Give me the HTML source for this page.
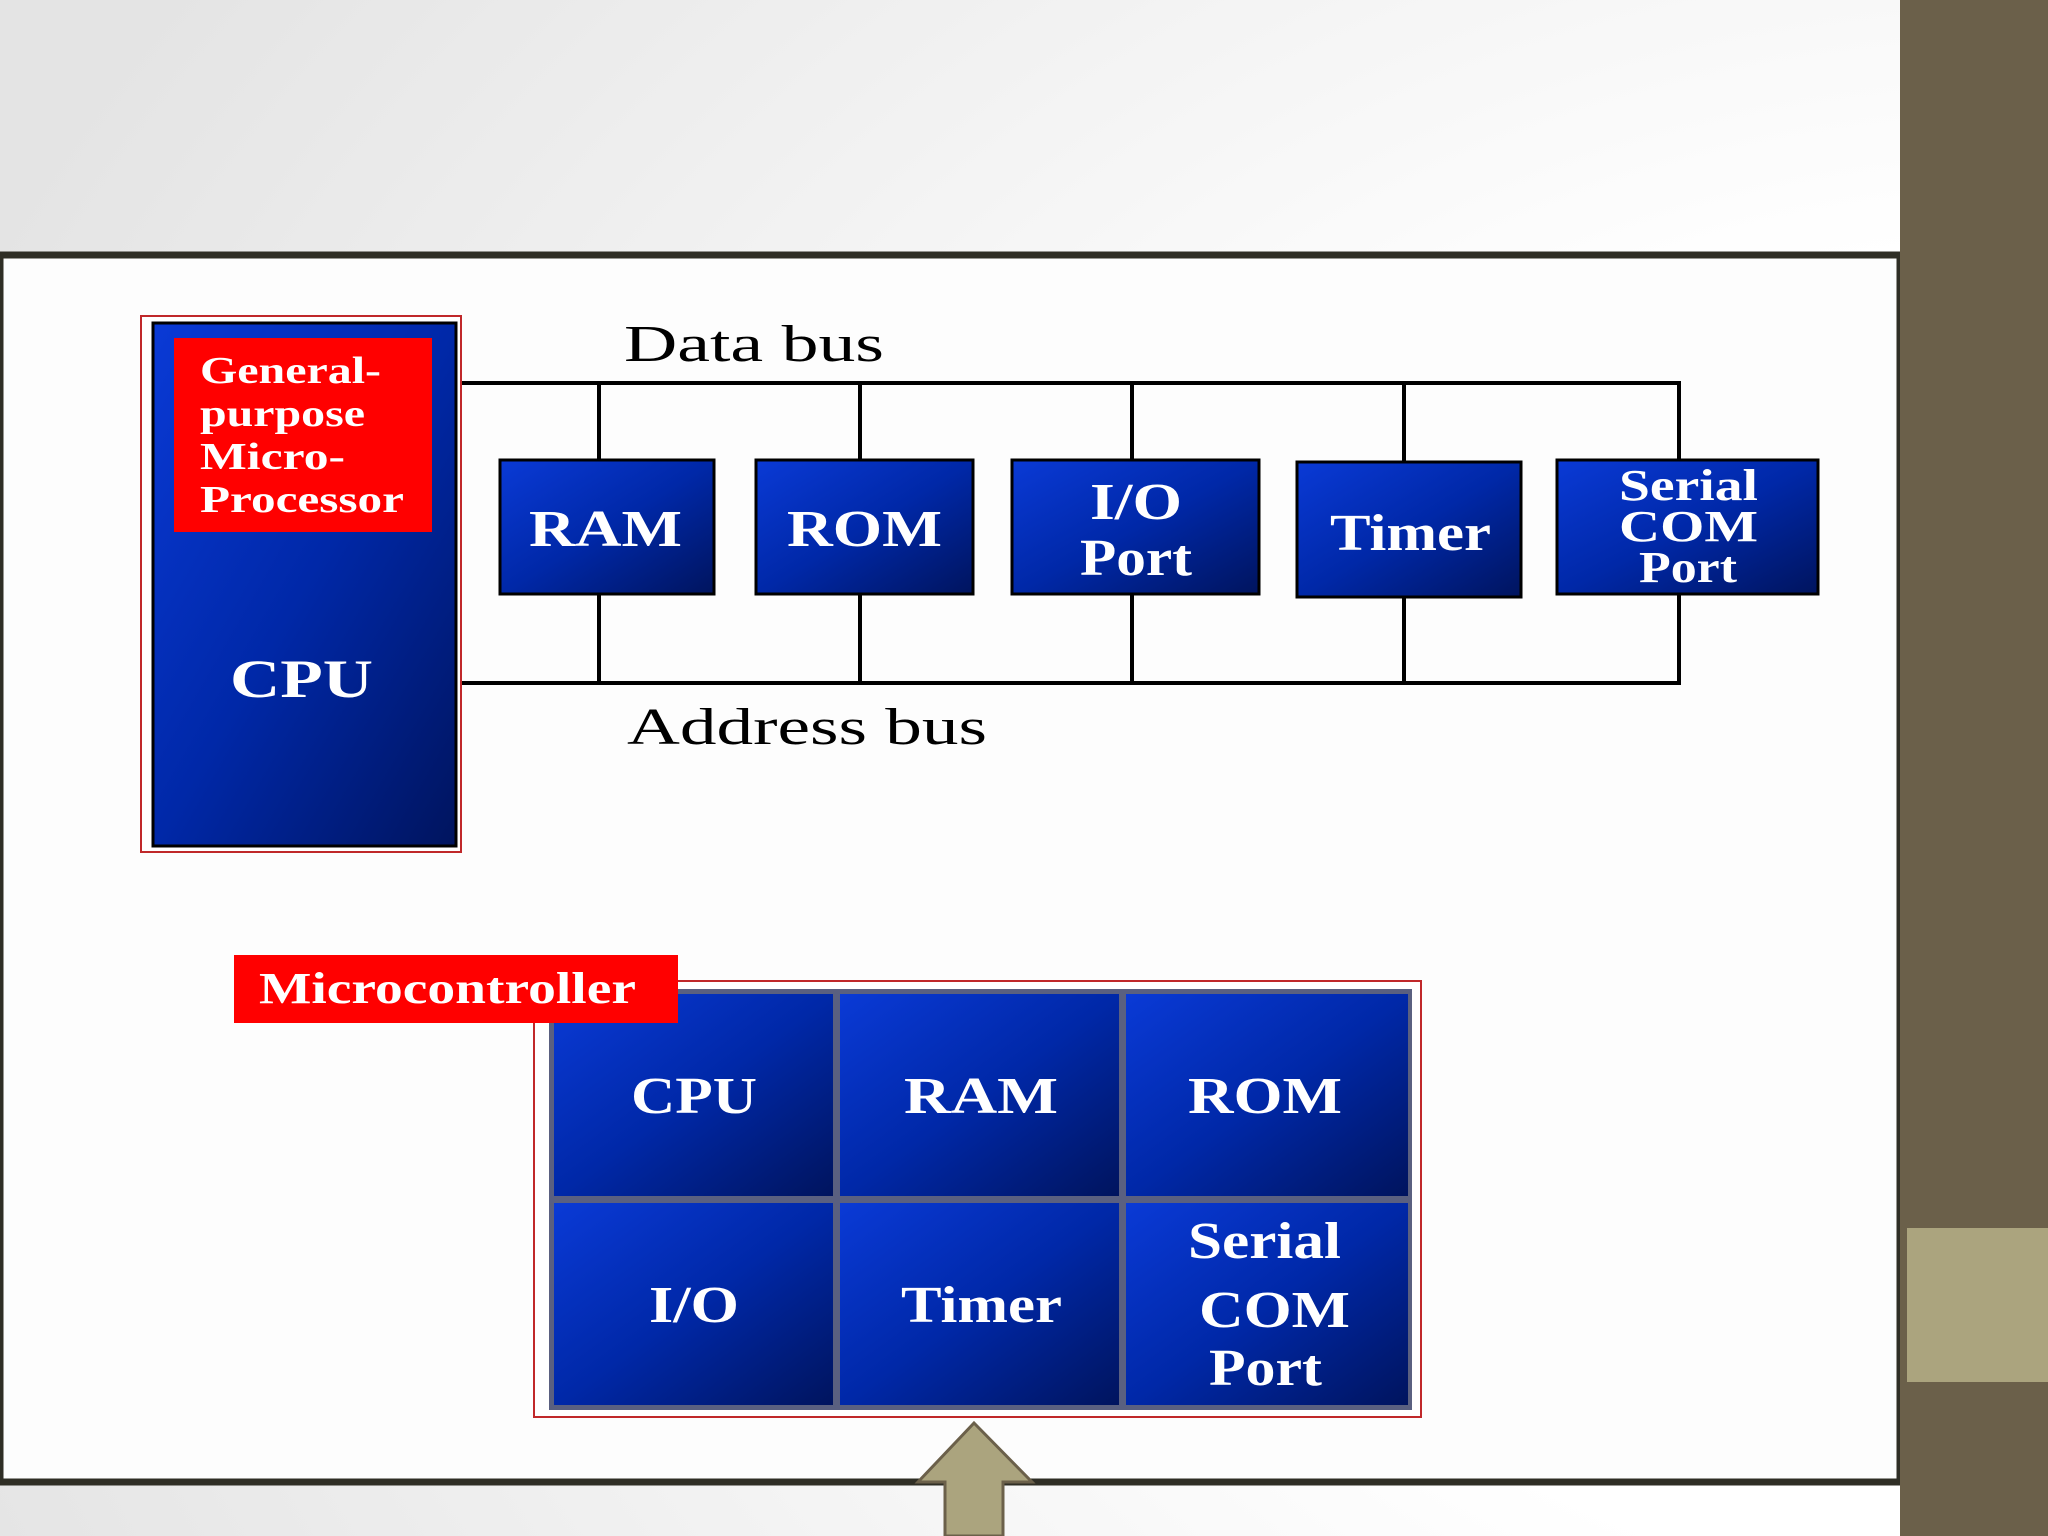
<!DOCTYPE html>
<html><head><meta charset="utf-8"><style>
html,body{margin:0;padding:0;width:2048px;height:1536px;overflow:hidden;background:#fff}
text{font-family:"Liberation Serif",serif;font-weight:bold}
</style></head><body>
<svg width="2048" height="1536" xmlns="http://www.w3.org/2000/svg">
<defs>
<radialGradient id="bg" cx="1" cy="0.6" r="1.1"><stop offset="0.4" stop-color="#ffffff"/><stop offset="1" stop-color="#e4e4e4"/></radialGradient>
<linearGradient id="bl" x1="0" y1="0" x2="1" y2="1"><stop offset="0" stop-color="#0a3ad6"/><stop offset="0.5" stop-color="#0028a8"/><stop offset="1" stop-color="#00145e"/></linearGradient>
</defs>
<rect width="2048" height="1536" fill="url(#bg)"/>
<rect x="0" y="255" width="1900" height="1227" fill="#fdfdfd" stroke="#2f2e25" stroke-width="7"/>
<rect x="1900" y="0" width="148" height="1536" fill="#6b604a"/>
<rect x="1907" y="1228" width="141" height="154" fill="#aba47e"/>
<g stroke="#000" stroke-width="4" fill="none">
<line x1="456" y1="383" x2="1681" y2="383"/>
<line x1="456" y1="683" x2="1681" y2="683"/>
<line x1="1679" y1="383" x2="1679" y2="683"/>
<line x1="599" y1="383" x2="599" y2="683"/>
<line x1="860" y1="383" x2="860" y2="683"/>
<line x1="1132" y1="383" x2="1132" y2="683"/>
<line x1="1404" y1="383" x2="1404" y2="683"/>
</g>
<rect x="141" y="316" width="320" height="536" fill="#fff" stroke="#c0282a" stroke-width="2"/>
<rect x="153" y="323" width="303" height="523" fill="url(#bl)" stroke="#000" stroke-width="3"/>
<rect x="174" y="338" width="258" height="194" fill="#f00"/>
<g fill="#fff" font-size="38" lengthAdjust="spacingAndGlyphs">
<text x="200" y="383" textLength="181" lengthAdjust="spacingAndGlyphs">General-</text>
<text x="200" y="426" textLength="165" lengthAdjust="spacingAndGlyphs">purpose</text>
<text x="200" y="469" textLength="145" lengthAdjust="spacingAndGlyphs">Micro-</text>
<text x="200" y="512" textLength="204" lengthAdjust="spacingAndGlyphs">Processor</text>
</g>
<g fill="#fff" font-size="54">
<text x="230" y="697" textLength="143" lengthAdjust="spacingAndGlyphs">CPU</text>
</g>
<text x="624" y="361" font-size="52" font-weight="normal" style="font-weight:normal" textLength="260" lengthAdjust="spacingAndGlyphs">Data bus</text>
<text x="627" y="744" font-size="52" style="font-weight:normal" textLength="360" lengthAdjust="spacingAndGlyphs">Address bus</text>
<g stroke="#000" stroke-width="3" fill="url(#bl)">
<rect x="500" y="460" width="214" height="134"/>
<rect x="756" y="460" width="217" height="134"/>
<rect x="1012" y="460" width="247" height="134"/>
<rect x="1297" y="462" width="224" height="135"/>
<rect x="1557" y="460" width="261" height="134"/>
</g>
<g fill="#fff" font-size="52">
<text x="529" y="546" textLength="153" lengthAdjust="spacingAndGlyphs">RAM</text>
<text x="787" y="546" textLength="155" lengthAdjust="spacingAndGlyphs">ROM</text>
<text x="1090" y="519" textLength="92" lengthAdjust="spacingAndGlyphs">I/O</text>
<text x="1080" y="575" textLength="112" lengthAdjust="spacingAndGlyphs">Port</text>
<text x="1330" y="550" textLength="161" lengthAdjust="spacingAndGlyphs">Timer</text>
</g>
<g fill="#fff" font-size="44">
<text x="1619" y="500" textLength="139" lengthAdjust="spacingAndGlyphs">Serial</text>
<text x="1619" y="541" textLength="139" lengthAdjust="spacingAndGlyphs">COM</text>
<text x="1639" y="582" textLength="98" lengthAdjust="spacingAndGlyphs">Port</text>
</g>
<rect x="534" y="981" width="887" height="436" fill="#fff" stroke="#c0282a" stroke-width="2"/>
<rect x="549" y="989" width="863" height="421" fill="#5a6080"/>
<g fill="url(#bl)">
<rect x="554" y="994" width="279" height="202"/>
<rect x="840" y="994" width="279" height="202"/>
<rect x="1126" y="994" width="282" height="202"/>
<rect x="554" y="1203" width="279" height="202"/>
<rect x="840" y="1203" width="279" height="202"/>
<rect x="1126" y="1203" width="282" height="202"/>
</g>
<rect x="234" y="955" width="444" height="68" fill="#f00"/>
<text x="259" y="1003" fill="#fff" font-size="44" textLength="377" lengthAdjust="spacingAndGlyphs">Microcontroller</text>
<g fill="#fff" font-size="52">
<text x="631" y="1113" textLength="126" lengthAdjust="spacingAndGlyphs">CPU</text>
<text x="904" y="1113" textLength="154" lengthAdjust="spacingAndGlyphs">RAM</text>
<text x="1188" y="1113" textLength="154" lengthAdjust="spacingAndGlyphs">ROM</text>
<text x="649" y="1322" textLength="90" lengthAdjust="spacingAndGlyphs">I/O</text>
<text x="901" y="1322" textLength="161" lengthAdjust="spacingAndGlyphs">Timer</text>
<text x="1188" y="1258" textLength="153" lengthAdjust="spacingAndGlyphs">Serial</text>
<text x="1199" y="1327" textLength="151" lengthAdjust="spacingAndGlyphs">COM</text>
<text x="1209" y="1385" textLength="113" lengthAdjust="spacingAndGlyphs">Port</text>
</g>
<polygon points="974,1423 1032,1482 1003,1482 1003,1536 945,1536 945,1482 918,1482" fill="#aba47e" stroke="#6b604a" stroke-width="3"/>
</svg>
</body></html>
